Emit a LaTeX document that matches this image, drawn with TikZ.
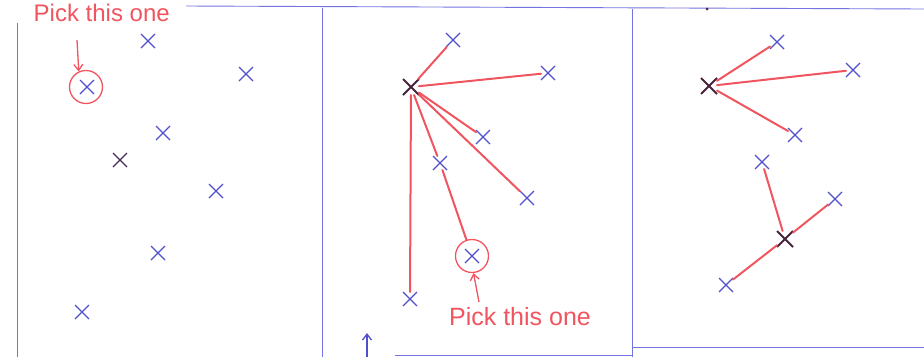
\documentclass[tikz,border=0pt]{standalone}
\usepackage{fontspec}
\setmainfont{Liberation Sans}
\usetikzlibrary{arrows.meta, shapes.misc}
\definecolor{penblue}{RGB}{80,80,205}
\definecolor{rulblue}{RGB}{115,115,225}
\definecolor{penred}{RGB}{240,85,95}
\definecolor{pendark}{RGB}{70,35,60}

\begin{document}
\begin{tikzpicture}[x=1pt, y=-1pt,
  pt/.style={cross out, draw=penblue, line width=1.1pt, minimum size=8pt,
    inner sep=0pt, outer sep=3pt},
  ctr/.style={cross out, draw=pendark, line width=1.8pt, minimum size=10pt,
    inner sep=0pt, outer sep=3pt},
  ring/.style={circle, draw=penred, line width=1.3pt, minimum size=33pt,
    inner sep=0pt},
  panel/.style={draw=rulblue, line width=0.9pt},
  link/.style={draw=penred, line width=2pt, line cap=round},
  arr/.style={-{Straight Barb[length=6pt, width=9pt]}, line width=1.3pt},
  note/.style={text=penred, inner sep=0pt}
]
\useasboundingbox (0,0) rectangle (924,357);
% Panels
\draw[panel] (186,6) -- (924,9);
\draw[panel] (17,23) -- (17,357);
\draw[panel] (322,8) -- (322,357);
\draw[panel] (632,9) -- (632,357);
\draw[panel] (395,355) -- (632,355);
\draw[panel] (632,347) -- (924,347);
\fill[pendark] (707,9) circle (1.5);
% Left panel: points
\node[pt] (a1) at (87,87) {};
\node[pt] (a2) at (148,41) {};
\node[pt] (a3) at (246,74) {};
\node[pt] (a4) at (163,133) {};
\node[pt, draw=pendark!80!penblue] (a5) at (120,160) {};
\node[pt] (a6) at (216,191) {};
\node[pt] (a7) at (158,253) {};
\node[pt] (a8) at (82,312) {};
\node[ring] (a1r) at (86,87) {};
\node[note, font=\fontsize{24}{24}\selectfont, anchor=base east] (t1) at (170,21)
  {Pick this one};
\coordinate (a1t) at (77,40);
\draw[arr, penred] (a1t) -- (a1r.115);
% Middle panel: first centre
\node[ctr] (m0) at (411,87) {};
\node[pt] (m1) at (453,40) {};
\node[pt] (m2) at (548,73) {};
\node[pt] (m3) at (483,137) {};
\node[pt] (m4) at (440,163) {};
\node[pt] (m5) at (527,198) {};
\node[pt] (m6) at (472,256) {};
\node[pt] (m7) at (410,299) {};
\node[ring] (m6r) at (472,256) {};
\draw[link] (m0) -- (m1);
\draw[link] (m0) -- (m2);
\draw[link] (m0) -- (m3);
\draw[link] (m0) -- (m4);
\draw[link] (m4) -- (m6r);
\draw[link] (m0) -- (m5);
\draw[link] (m0) -- (m7);
\node[note, font=\fontsize{25}{25}\selectfont] (t2) at (520,317) {Pick this one};
\coordinate (m6t) at (479,302);
\draw[arr, penred] (m6t) -- (m6r.275);
\coordinate (up0) at (367,357);
\coordinate (up1) at (367,333);
\draw[arr, penblue] (up0) -- (up1);
% Right panel: two centres
\node[ctr] (r0) at (709,86) {};
\node[pt] (r1) at (777,42) {};
\node[pt] (r2) at (853,70) {};
\node[pt] (r3) at (795,135) {};
\node[ctr] (s0) at (785,239) {};
\node[pt] (s1) at (762,162) {};
\node[pt] (s2) at (835,199) {};
\node[pt] (s3) at (726,285) {};
\draw[link] (r0) -- (r1);
\draw[link] (r0) -- (r2);
\draw[link] (r0) -- (r3);
\draw[link] (s0) -- (s1);
\draw[link] (s0) -- (s2);
\draw[link] (s0) -- (s3);
\end{tikzpicture}
\end{document}
